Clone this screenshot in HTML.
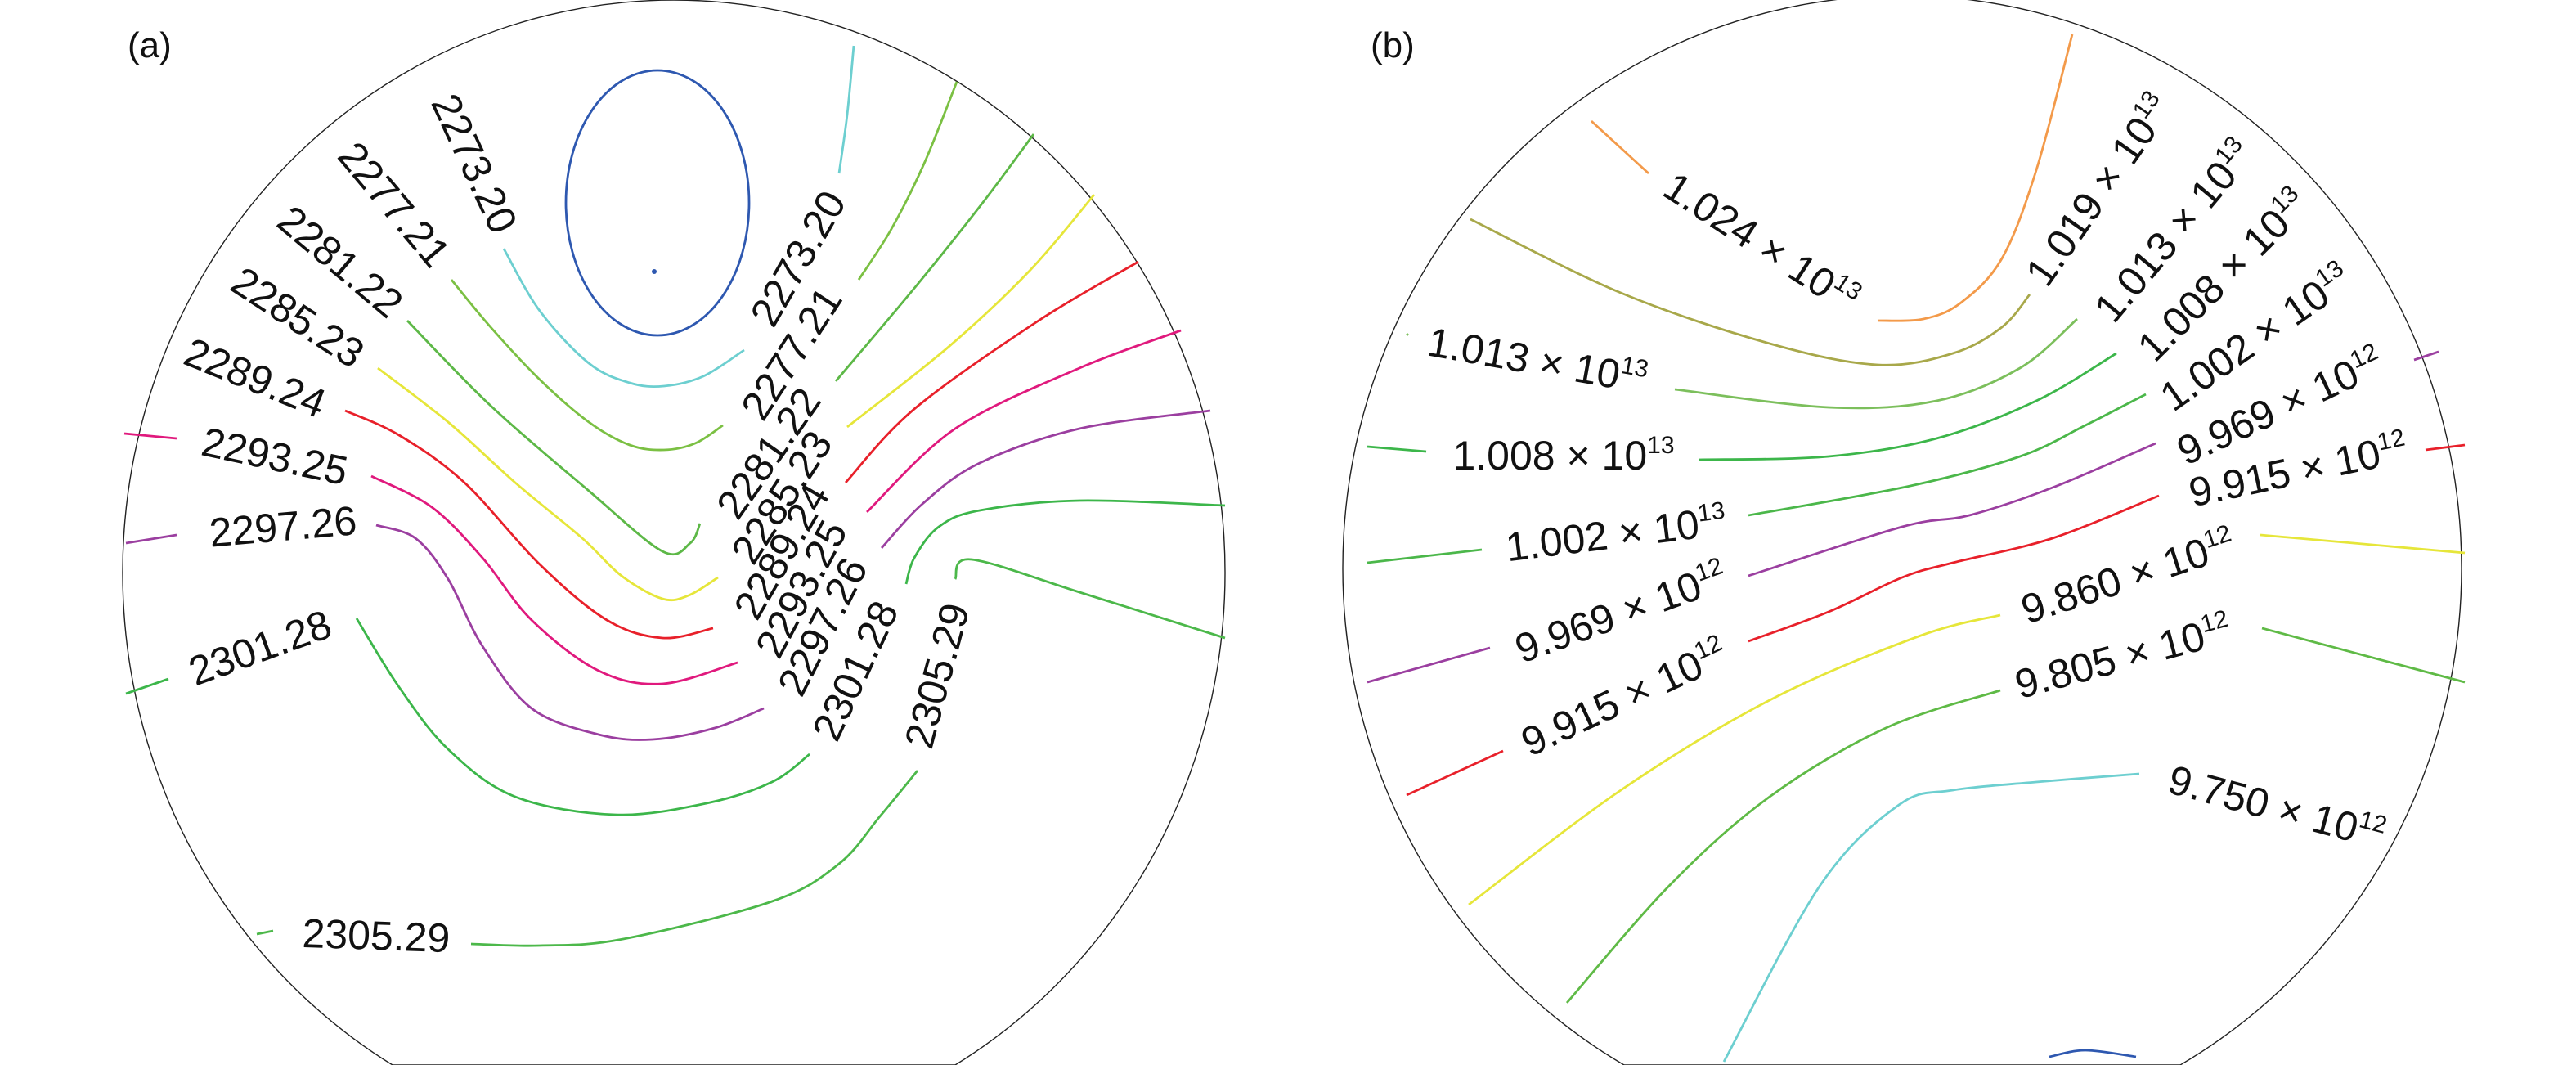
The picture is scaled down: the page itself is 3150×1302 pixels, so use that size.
<!DOCTYPE html>
<html><head><meta charset="utf-8"><style>
html,body{margin:0;padding:0;background:#fff;}
svg{display:block;}
text{font-family:"Liberation Sans",sans-serif;fill:#111;}
</style></head><body>
<svg id="fig" width="3150" height="1302" viewBox="0 0 1575 651" xmlns="http://www.w3.org/2000/svg">
<g>
<path d="M240,651 A337,350 0 1 1 584,651" fill="none" stroke="#222" stroke-width="0.7"/>
<line x1="240" y1="651" x2="584" y2="651" stroke="#222" stroke-width="0.7"/>
<text x="78" y="35" font-size="22">(a)</text>
<ellipse cx="402" cy="124" rx="56" ry="81" fill="none" stroke="#2e58b0" stroke-width="1.4"/>
<g id="linesA"></g><g id="labelsA"></g>
</g>
<g>
<path d="M993,651 A342,350 0 1 1 1333,651" fill="none" stroke="#222" stroke-width="0.7"/>
<line x1="993" y1="651" x2="1333" y2="651" stroke="#222" stroke-width="0.7"/>
<text x="838" y="35" font-size="22">(b)</text>
<g id="linesB"></g><g id="labelsB"></g>
</g>
</svg>
<script>
// Panel (a) contour data
const levelsA = ["2273.20","2277.21","2281.22","2285.23","2289.24","2293.25","2297.26","2301.28","2305.29"];
const colorsA = ["#6dcfd0","#7bc043","#5db847","#e6e63a","#e8202a","#e0197d","#9b3fa0","#3cb64a","#4cb84a"];
const linesA = [
 [[[308,152],[330,190],[360,222],[385,234],[406,236],[430,230],[455,214]],[[522,28],[518,70],[513,106]]],
 [[[276,171],[300,200],[330,232],[360,258],[385,272],[406,275],[425,271],[442,260]],[[585,50],[565,100],[545,140],[525,171]]],
 [[[249,196],[300,248],[360,300],[405,337],[422,332],[428,320]],[[632,82],[600,125],[560,175],[511,233]]],
 [[[231,225],[274,258],[315,295],[356,329],[380,352],[405,366],[421,364],[439,353]],[[669,119],[630,165],[580,212],[518,261]]],
 [[[211,251],[244,266],[284,295],[330,345],[371,379],[405,390],[436,384]],[[696,160],[635,196],[559,250],[517,295]]],
 [[[76,265],[108,268]],[[227,291],[264,310],[295,341],[325,379],[366,410],[405,418],[451,405]],[[722,202],[660,225],[584,262],[530,313]]],
 [[[77,332],[108,327]],[[230,321],[254,329],[274,354],[295,395],[325,433],[366,449],[399,452],[437,445],[467,433]],[[740,251],[660,262],[599,283],[564,308],[539,335]]],
 [[[77,424],[103,415]],[[218,378],[244,420],[274,458],[315,487],[376,498],[432,491],[472,478],[495,461]],[[749,309],[660,306],[599,312],[574,322],[559,341],[554,357]]],
 [[[157,571],[167,569]],[[288,577],[330,578],[381,574],[472,551],[513,528],[538,499],[561,471]],[[749,390],[660,362],[594,342],[584,354]]]
];
const labelsA = [
 [0,290,100,65],[1,241,125,50],[2,208,160,40],[3,182,194,33],[4,156,231,22],[5,168,279,12],[6,173,322,-5],[7,159,396,-20],[8,230,572,2],
 [0,488,158,-60],[1,484,216,-57],[2,470,277,-55],[3,478,304,-57],[4,478,337,-60],[5,490,360,-62],[6,503,383,-63],[7,523,410,-65],[8,573,413,-75]
];
// Panel (b) contour data
const mantB = ["1.024","1.019","1.013","1.008","1.002","9.969","9.915","9.860","9.805","9.750"];
const expB = ["13","13","13","13","13","12","12","12","12","12"];
const colorsB = ["#f39a4a","#a8a84a","#7cbf5c","#3cb64a","#4bb74a","#9b3fa0","#e8202a","#e6e63a","#5fba46","#6dcfd0"];
const linesB = [
 [[[973,74],[1008,106]],[[1148,196],[1176,195],[1199,185],[1224,158],[1245,104],[1267,21]]],
 [[[899,134],[991,179],[1082,210],[1148,223],[1194,216],[1224,200],[1241,180]]],
 [[[860,204],[861,205]],[[1024,238],[1118,249],[1184,245],[1235,225],[1270,195]]],
 [[[836,273],[872,276]],[[1039,281],[1118,279],[1184,268],[1245,245],[1294,216]]],
 [[[836,344],[906,336]],[[1069,315],[1168,297],[1235,279],[1275,260],[1312,241]]],
 [[[836,417],[911,396]],[[1069,352],[1163,322],[1204,315],[1255,298],[1318,271]],[[1476,220],[1491,215]]],
 [[[860,486],[919,459]],[[1069,392],[1118,374],[1163,353],[1194,344],[1255,329],[1320,303]],[[1483,275],[1507,272]]],
 [[[898,553],[991,483],[1082,428],[1173,389],[1223,376]],[[1382,327],[1507,338]]],
 [[[958,613],[1021,541],[1082,487],[1153,445],[1223,422]],[[1383,384],[1507,417]]],
 [[[1054,649],[1113,541],[1161,492],[1194,483],[1245,478],[1308,473]]]
];
const blueB = [[[1253,646],[1275,642],[1306,646]]];
const labelsB = [
 [0,1077,148,33],[1,1283,116,-55],[2,1329,141,-50],[3,1359,168,-45],[4,1379,206,-35],[5,1394,248,-25],[6,1405,287,-12],
 [7,1301,352,-18],[8,1298,401,-15],[9,1392,493,15],
 [2,940,220,10],[3,956,278,0],[4,988,326,-7],[5,991,374,-20],[6,993,426,-25]
];
const NS="http://www.w3.org/2000/svg";
function smooth(pts){
  if(pts.length<3) return 'M'+pts.map(q=>q[0]+','+q[1]).join(' L');
  let d='M'+pts[0][0]+','+pts[0][1];
  for(let i=0;i<pts.length-1;i++){
    const p0=pts[i-1]||pts[i],p1=pts[i],p2=pts[i+1],p3=pts[i+2]||p2;
    const c1=[p1[0]+(p2[0]-p0[0])/6,p1[1]+(p2[1]-p0[1])/6];
    const c2=[p2[0]-(p3[0]-p1[0])/6,p2[1]-(p3[1]-p1[1])/6];
    d+=' C'+c1[0]+','+c1[1]+' '+c2[0]+','+c2[1]+' '+p2[0]+','+p2[1];
  }
  return d;
}
function poly(g,pts,color,name){
  const p=document.createElementNS(NS,'path');
  p.setAttribute('d',smooth(pts));
  p.setAttribute('fill','none');p.setAttribute('stroke',color);p.setAttribute('stroke-width','1.4');
  p.setAttribute('stroke-linejoin','round');
  
  
  g.appendChild(p);
}
const gA=document.getElementById('linesA');
linesA.forEach((segs,i)=>segs.forEach(s=>poly(gA,s,colorsA[i],'contour-'+levelsA[i].replace('.','-'))));
const dot=document.createElementNS(NS,'circle');
dot.setAttribute('cx',400);dot.setAttribute('cy',166);dot.setAttribute('r',1.5);dot.setAttribute('fill','#2e58b0');


gA.appendChild(dot);
const lA=document.getElementById('labelsA');
labelsA.forEach(l=>{
  const t=document.createElementNS(NS,'text');
  t.setAttribute('x',l[1]);t.setAttribute('y',l[2]);t.setAttribute('font-size','25');
  t.setAttribute('text-anchor','middle');t.setAttribute('dominant-baseline','central');
  t.setAttribute('transform','rotate('+l[3]+' '+l[1]+' '+l[2]+')');
  t.textContent=levelsA[l[0]];
  
  
  lA.appendChild(t);
});
const gB=document.getElementById('linesB');
linesB.forEach((segs,i)=>segs.forEach(s=>poly(gB,s,colorsB[i],'contour-'+mantB[i].replace('.','-')+'e'+expB[i])));
blueB.forEach(s=>poly(gB,s,"#2e58b0",'contour-min-b'));
const lB=document.getElementById('labelsB');
labelsB.forEach(l=>{
  const t=document.createElementNS(NS,'text');
  t.setAttribute('x',l[1]);t.setAttribute('y',l[2]+9);t.setAttribute('font-size','25');
  t.setAttribute('text-anchor','middle');
  t.setAttribute('transform','rotate('+l[3]+' '+l[1]+' '+l[2]+')');
  t.appendChild(document.createTextNode(mantB[l[0]]+' \u00d7 10'));
  const s=document.createElementNS(NS,'tspan');
  s.setAttribute('dy','-10');s.setAttribute('font-size','15');
  s.textContent=expB[l[0]];
  t.appendChild(s);
  
  
  lB.appendChild(t);
});
</script>
</body></html>
